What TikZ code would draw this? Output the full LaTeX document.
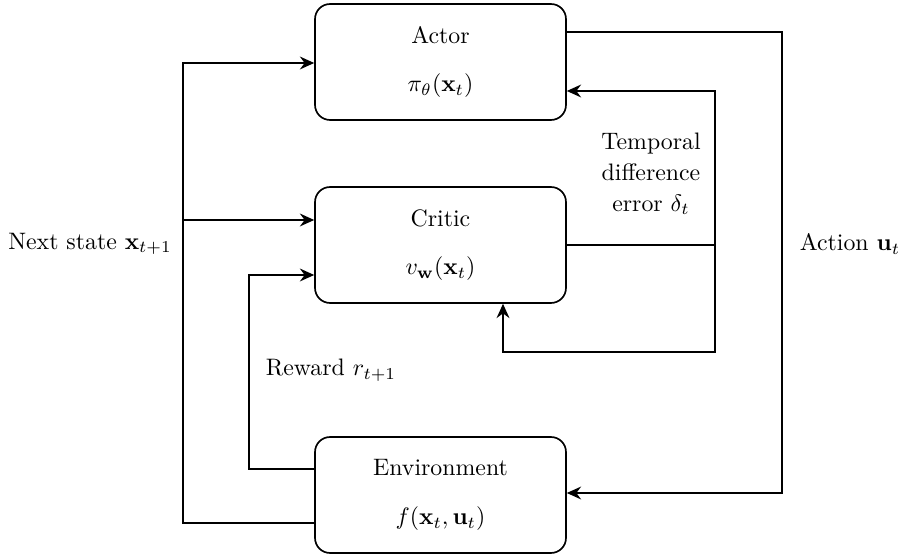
\documentclass[tikz,border=0pt]{standalone}
\usetikzlibrary{arrows.meta}
\begin{document}
\begin{tikzpicture}[x=0.42pt,y=-0.42pt,
  line width=0.7pt,
  block/.style={draw, rounded corners=6.3pt, minimum width=105.4pt, minimum height=48.7pt, inner sep=0pt, align=center},
  arr/.style={-{Stealth[length=6pt,width=5.4pt,inset=2pt]}},
  lbl/.style={inner sep=0pt, align=center}]
\useasboundingbox (0,0) rectangle (902,557);
\node[block] (actor) at (440.5,62) {Actor\\[8.5pt]$\pi_\theta(\mathbf{x}_t)$};
\node[block] (critic) at (440.5,245) {Critic\\[8.5pt]$v_{\mathbf{w}}(\mathbf{x}_t)$};
\node[block] (env) at (440.5,495) {Environment\\[8.5pt]$f(\mathbf{x}_t,\mathbf{u}_t)$};
\node[lbl] (ns) at (90,244) {Next state $\mathbf{x}_{t+1}$};
\node[lbl] (act) at (850,244) {Action $\mathbf{u}_t$};
\node[lbl, anchor=west] (rew) at (265,370) {Reward $r_{t+1}$};
\node[lbl] (td) at (651,174) {Temporal\\[1pt]difference\\[1pt]error $\delta_t$};
\coordinate (sp) at (183,220);
\coordinate (tdj) at (715,245);
\draw[arr] (env.west |- 0,523) -| (183,63) -- (actor.west |- 0,63);
\draw[arr] (sp) -- (critic.west |- sp);
\draw[arr] (env.west |- 0,469) -| (249,275) -- (critic.west |- 0,275);
\draw[arr] (actor.east |- 0,32) -| (782,493) -- (env.east |- 0,493);
\draw (critic.east) -- (tdj);
\draw[arr] (tdj) |- (actor.east |- 0,91);
\draw[arr] (tdj) |- (503,352) -- (critic.south -| 503,0);
\end{tikzpicture}
\end{document}
